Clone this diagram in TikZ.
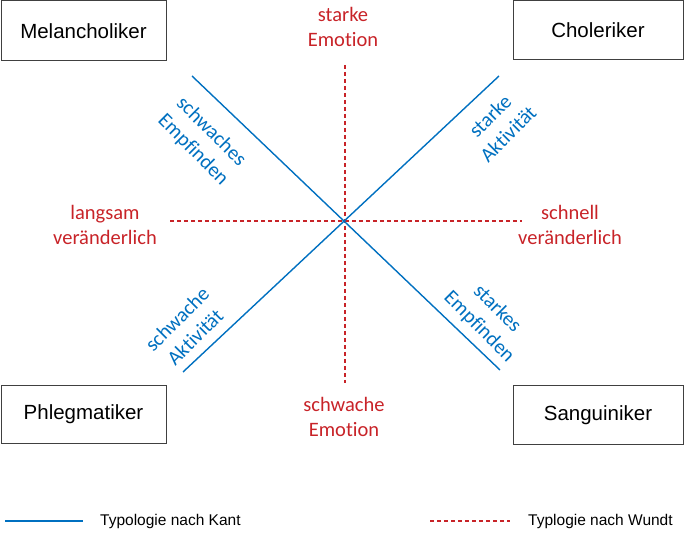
\documentclass[tikz,border=0pt]{standalone}
\usepackage{fontspec}
\setmainfont[Ligatures={NoCommon}]{Carlito}
\newfontfamily\arialf{Liberation Sans}
\definecolor{kantblue}{RGB}{0,112,192}
\definecolor{wundtred}{RGB}{200,35,40}
\definecolor{boxgray}{RGB}{64,64,64}
\begin{document}
\begin{tikzpicture}[x=1pt,y=1pt,
  typbox/.style={draw=boxgray,line width=1pt,inner sep=0pt,font=\arialf\fontsize{20.5}{24}\selectfont},
  redlab/.style={text=wundtred,align=center,inner sep=0pt,font=\fontsize{20.5}{25.5}\selectfont},
  bluelab/.style={text=kantblue,align=center,inner sep=0pt,font=\fontsize{20.5}{25.5}\selectfont},
  kantline/.style={draw=kantblue,line width=1.4pt},
  wundtline/.style={draw=wundtred,line width=1.1pt,dash pattern=on 4pt off 3pt},
  legtext/.style={anchor=west,inner sep=0pt,font=\arialf\fontsize{15.5}{18}\selectfont}]
\useasboundingbox (0,0) rectangle (685,533);
% boxes
\node[typbox,minimum width=165pt,minimum height=60pt] (mel) at (83.5,502) {Melancholiker};
\node[typbox,minimum width=170pt,minimum height=59pt] (chol) at (598,502.5) {Choleriker};
\node[typbox,minimum width=165pt,minimum height=57pt] (phleg) at (83.5,118.5) {Phlegmatiker};
\node[typbox,minimum width=170pt,minimum height=58pt] (sang) at (598,118) {Sanguiniker};
% line end points
\coordinate (nw) at (192,457);
\coordinate (se) at (500,163);
\coordinate (ne) at (499,457);
\coordinate (sw) at (183,161);
\coordinate (top) at (345,468);
\coordinate (bot) at (345,150);
\coordinate (lft) at (170,312);
\coordinate (rgt) at (522,312);
% Wundt
\draw[wundtline] (top) -- (bot);
\draw[wundtline] (lft) -- (rgt);
% Kant
\draw[kantline] (nw) -- (se);
\draw[kantline] (ne) -- (sw);
% red labels
\node[redlab] (se1) at (343,506) {starke\\Emotion};
\node[redlab] (se2) at (344,116) {schwache\\Emotion};
\node[redlab] (lv) at (105,308) {langsam\\veränderlich};
\node[redlab] (sv) at (570,308) {schnell\\veränderlich};
% blue labels
\node[bluelab,rotate=-45] (swe) at (202,392) {schwaches\\Empfinden};
\node[bluelab,rotate=45] (sta) at (499,408) {starke\\Aktivität};
\node[bluelab,rotate=45] (swa) at (186,205) {schwache\\Aktivität};
\node[bluelab,rotate=-45] (ste) at (488,215) {starkes\\Empfinden};
% legend
\coordinate (lk1) at (5,12);
\coordinate (lk2) at (83,12);
\coordinate (lw1) at (430,12);
\coordinate (lw2) at (510,12);
\draw[kantblue,line width=1.2pt] (lk1) -- (lk2);
\draw[wundtline] (lw1) -- (lw2);
\node[legtext] (lkt) at (100,12) {Typologie nach Kant};
\node[legtext] (lwt) at (528,12) {Typlogie nach Wundt};
\end{tikzpicture}
\end{document}
